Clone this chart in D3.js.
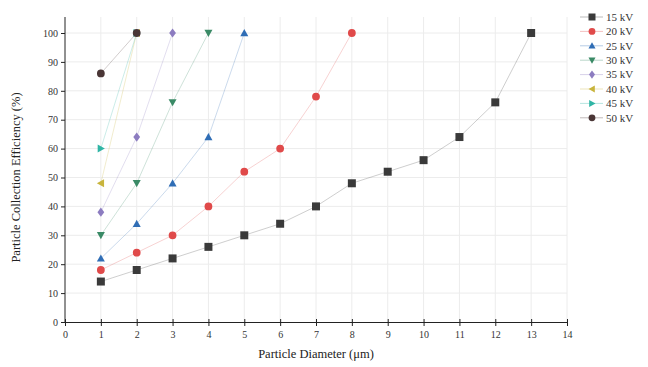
<!DOCTYPE html>
<html lang="en">
<head>
<meta charset="UTF-8" />
<title>Particle Collection Efficiency</title>
<script src="https://d3js.org/d3.v7.min.js"></script>
<style>
body { margin: 0; background: #fff; }
svg { display: block; font-family: "Liberation Serif", "DejaVu Serif", serif; }
.axis text { font-size: 10px; fill: #333; font-family: "Liberation Serif", "DejaVu Serif", serif; }
.axis path, .axis line { stroke: #222; }
.grid line { stroke: #ececec; }
.label { font-size: 12.5px; fill: #222; }
.legend text { font-size: 11px; fill: #333; }
</style>
</head>
<body>
<div id="chart"></div>
<script>
// --- data ---
const seriesNames = ["15 kV", "20 kV", "25 kV", "30 kV", "35 kV", "40 kV", "45 kV", "50 kV"];
const v15 = [14, 18, 22, 26, 30, 34, 40, 48, 52, 56, 64, 76, 100];
const v20 = [18, 24, 30, 40, 52, 60, 78, 100];
const v25 = [22, 34, 48, 64, 100];
const v30 = [30, 48, 76, 100];
const v35 = [38, 64, 100];
const v40 = [48, 100];
const v45 = [60, 100];
const v50 = [86, 100];
const seriesValues = [v15, v20, v25, v30, v35, v40, v45, v50];
const xTicks = d3.range(0, 15);
const yTicks = d3.range(0, 101, 10);

const colors = ["#3a3a3a", "#e04a4a", "#2f6db5", "#3a8a66", "#8c7cc0", "#c8b43c", "#2fb5a5", "#4a3636"];
const symbols = ["square", "circle", "up", "down", "diamond", "left", "right", "circle"];

// --- layout ---
const W = 648, H = 367;
const margin = { top: 33, left: 65, right: 81, bottom: 45 };

const svg = d3.select("#chart").append("svg")
  .attr("width", W).attr("height", H);

const x = d3.scaleLinear().domain([0, 14]).range([margin.left, W - margin.right]);
const y = d3.scaleLinear().domain([0, 100]).range([H - margin.bottom, margin.top]);

// --- grid ---
const grid = svg.append("g").attr("class", "grid");
grid.selectAll(".gx").data(xTicks.slice(1)).join("line")
  .attr("x1", d => x(d)).attr("x2", d => x(d))
  .attr("y1", y(0)).attr("y2", 17);
grid.selectAll(".gy").data(yTicks.slice(1)).join("line")
  .attr("x1", x(0)).attr("x2", x(14))
  .attr("y1", d => y(d)).attr("y2", d => y(d));

// --- axes ---
svg.append("g").attr("class", "axis")
  .attr("transform", `translate(0,${y(0)})`)
  .call(d3.axisBottom(x).tickValues(xTicks).tickSize(4).tickSizeOuter(0))
  .call(g => g.selectAll(".tick line").attr("y1", -3))
  .call(g => g.selectAll(".tick text").attr("dy", "0.9em"));

svg.append("g").attr("class", "axis")
  .attr("transform", `translate(${x(0)},0)`)
  .call(d3.axisLeft(y).tickValues(yTicks).tickSize(4).tickSizeOuter(0))
  .call(g => g.select(".domain").attr("d", `M0,${y(0)}V17`));

// --- marker shapes (d = width in px) ---
function marker(i, d) {
  const s = d / 2;
  let pts;
  switch (symbols[i]) {
    case "square": pts = [[-s, -s], [s, -s], [s, s], [-s, s]]; break;
    case "diamond": pts = [[0, -s * 1.15], [s * 0.85, 0], [0, s * 1.15], [-s * 0.85, 0]]; break;
    case "up": pts = [[0, -s], [s, s * 0.8], [-s, s * 0.8]]; break;
    case "down": pts = [[0, s], [s, -s * 0.8], [-s, -s * 0.8]]; break;
    case "left": pts = [[-s, 0], [s * 0.8, -s], [s * 0.8, s]]; break;
    case "right": pts = [[s, 0], [-s * 0.8, -s], [-s * 0.8, s]]; break;
    default:
      return d3.symbol().type(d3.symbolCircle).size(Math.PI * s * s * 0.95)();
  }
  return "M" + pts.map(p => p.join(",")).join("L") + "Z";
}

// --- lines and points ---
const line = d3.line().x(d => x(d[0])).y(d => y(d[1]));

seriesValues.forEach((vals, i) => {
  const pts = vals.map((v, k) => [k + 1, v]);
  svg.append("path")
    .attr("d", line(pts))
    .attr("fill", "none")
    .attr("stroke", colors[i])
    .attr("stroke-opacity", 0.25)
    .attr("stroke-width", 1);
  svg.append("g").selectAll("path").data(pts).join("path")
    .attr("transform", d => `translate(${x(d[0])},${y(d[1])})`)
    .attr("d", marker(i, 8))
    .attr("fill", colors[i]);
});

// --- legend ---
const legend = svg.append("g").attr("class", "legend")
  .attr("transform", `translate(580,17)`);
seriesNames.forEach((name, i) => {
  const row = legend.append("g").attr("transform", `translate(0,${i * 14.4})`);
  row.append("line").attr("x1", 0).attr("x2", 23).attr("y1", 0).attr("y2", 0)
    .attr("stroke", colors[i]).attr("stroke-opacity", 0.35);
  row.append("path").attr("transform", "translate(12,0)")
    .attr("d", marker(i, 7)).attr("fill", colors[i]);
  row.append("text").attr("x", 26).attr("y", 0).attr("dy", "0.35em").text(name);
});

// --- axis titles ---
svg.append("text").attr("class", "label")
  .attr("x", x(7)).attr("y", 358)
  .attr("text-anchor", "middle")
  .text("Particle Diameter (μm)");

svg.append("text").attr("class", "label")
  .attr("transform", `translate(20,${y(50)}) rotate(-90)`)
  .attr("text-anchor", "middle")
  .text("Particle Collection Efficiency (%)");
</script>
</body>
</html>
